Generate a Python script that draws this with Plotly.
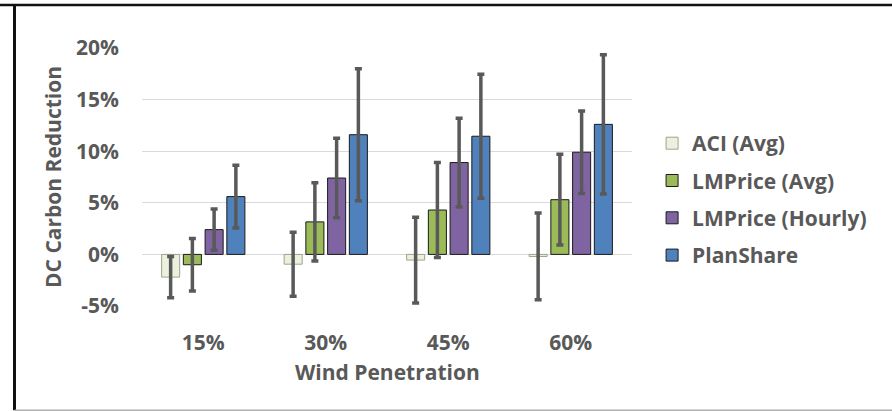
import plotly.graph_objects as go

categories = ["15%", "30%", "45%", "60%"]
series_names = ["ACI (Avg)", "LMPrice (Avg)", "LMPrice (Hourly)", "PlanShare"]
aci_vals = [-2.2, -0.95, -0.55, -0.2]
aci_err = [2.0, 3.1, 4.15, 4.2]
lmavg_vals = [-1.0, 3.15, 4.3, 5.3]
lmavg_err = [2.55, 3.8, 4.6, 4.4]
lmhourly_vals = [2.4, 7.4, 8.9, 9.9]
lmhourly_err = [2.0, 3.85, 4.3, 4.0]
planshare_vals = [5.6, 11.6, 11.45, 12.6]
planshare_err = [3.05, 6.4, 6.0, 6.75]
y_tickvals = [-5, 0, 5, 10, 15, 20]
y_ticktext = ["-5%", "0%", "5%", "10%", "15%", "20%"]

fills = ["#EBF1DE", "#9BBB59", "#8064A2", "#4F81BD"]
outlines = ["#9aa58a", "#1a1a1a", "#1a1a1a", "#1a1a1a"]
values = [aci_vals, lmavg_vals, lmhourly_vals, planshare_vals]
errors = [aci_err, lmavg_err, lmhourly_err, planshare_err]

TXT = "#595959"
FONT = "Open Sans"
FS = 21

fig = go.Figure()
for i, name in enumerate(series_names):
    fig.add_trace(go.Bar(
        x=categories, y=values[i], name=name, legendgroup=name,
        marker=dict(color=fills[i], line=dict(color=outlines[i], width=1)),
        error_y=dict(type="data", array=errors[i], symmetric=True,
                     color="#595959", thickness=3.5, width=3.5),
    ))

fig.update_layout(
    width=892, height=411,
    margin=dict(l=142, r=260, t=48, b=105),
    paper_bgcolor="white", plot_bgcolor="white",
    barmode="group", bargap=0.29, bargroupgap=0.17,
    font=dict(family=FONT, color=TXT, size=FS, weight="bold"),
    showlegend=True,
    legend=dict(x=1.041, xanchor="left", y=0.4126, yanchor="middle",
                traceorder="grouped", tracegroupgap=7,
                font=dict(family=FONT, size=FS, color=TXT, weight="bold"),
                bgcolor="rgba(0,0,0,0)"),
    xaxis=dict(showgrid=False, showline=False, zeroline=False,
               ticks="", ticklabelstandoff=22,
               tickfont=dict(family=FONT, size=FS, color=TXT, weight="bold")),
    yaxis=dict(range=[-5, 20], tickvals=y_tickvals, ticktext=y_ticktext,
               showgrid=True, gridcolor="#d9d9d9", gridwidth=1,
               zeroline=True, zerolinecolor="#d9d9d9", zerolinewidth=1,
               showline=False, ticks="", ticklabelstandoff=22,
               tickfont=dict(family=FONT, size=FS, color=TXT, weight="bold")),
    annotations=[
        dict(text="DC Carbon Reduction", xref="paper", yref="paper",
             x=0, y=0.5, xshift=-89, textangle=-90, showarrow=False,
             xanchor="center", yanchor="middle",
             font=dict(family=FONT, size=FS, color=TXT, weight="bold")),
        dict(text="Wind Penetration", xref="paper", yref="paper",
             x=0.5, y=0, yshift=-66, showarrow=False,
             xanchor="center", yanchor="middle",
             font=dict(family=FONT, size=FS, color=TXT, weight="bold")),
    ],
    shapes=[
        dict(type="line", xref="paper", yref="paper", x0=-142/490, x1=750/490,
             y0=1 + 43/257.4, y1=1 + 43/257.4, line=dict(color="#111111", width=2.5)),
        dict(type="line", xref="paper", yref="paper", x0=-127.5/490, x1=-127.5/490,
             y0=1 + 43/257.4, y1=-104/257.4, line=dict(color="#111111", width=3)),
        dict(type="line", xref="paper", yref="paper", x0=-127.5/490, x1=750/490,
             y0=-104/257.4, y1=-104/257.4, line=dict(color="#b0b0b0", width=1.5)),
    ],
)

fig.write_html("out.html")
